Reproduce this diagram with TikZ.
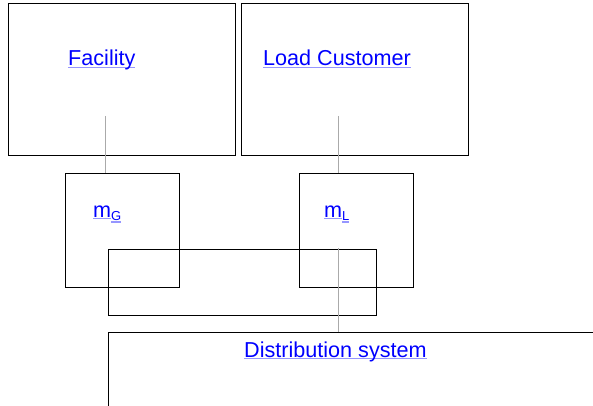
\documentclass[tikz,border=0pt]{standalone}
\usepackage{fontspec}
\setmainfont{Liberation Sans}
\usepackage{tikz}
\usepackage{color}

\definecolor{lnkblue}{RGB}{0,0,255}
\definecolor{lnkline}{RGB}{150,150,255}
\definecolor{wire}{RGB}{170,170,170}

\newcommand{\lnk}[1]{\setbox0\hbox{#1}\rlap{\color{lnkline}\rule[-2.4pt]{\wd0}{1.8pt}}\box0}
\newcommand{\lnksub}[2]{\lnk{#1}\raisebox{-3.5pt}{\fontsize{13}{13}\selectfont\lnk{#2}}}

\begin{document}
\begin{tikzpicture} [x=1pt,y=-1pt,
 box/.style={draw,line width=1pt,inner sep=0pt,minimum width=#1},
 lbl/.style={anchor=base west,inner sep=0pt,text=lnkblue,font=\fontsize{21.6}{24}\selectfont},
 feed/.style={draw=wire,line width=1pt}]
 
\useasboundingbox (0,0) rectangle (593,406);

\node [box=227pt,minimum height=151pt] (fac) at (121.5,79.5) {};
\node [box=227pt,minimum height=151pt] (load) at (354.5,79.5) {};
\node [box=114pt,minimum height=114pt] (mG) at (122,230) {};
\node [box=114pt,minimum height=114pt] (mL) at (356,230) {};
\node [box=268pt,minimum height=66pt] (bus) at (242,282) {};

\coordinate (fG) at (105,116);
\coordinate (fL) at (338,116);
\coordinate (bL) at (338,248);
\coordinate (dsa) at (108,406);
\coordinate (dsb) at (108,332);
\coordinate (dsc) at (593,332);

\node [lbl] (tfac) at (68,66) {\lnk{Facility}};
\node [lbl] (tload) at (263,66) {\lnk{Load Customer}};
\node [lbl] (tmG) at (93,217) {\lnksub{m}{G}};
\node [lbl] (tmL) at (324,217) {\lnksub{m}{L}};
\node [lbl] (tds) at (244,357) {\lnk{Distribution system}};

\draw [feed] (fG) -- (fG |- mG.north);
\draw [feed] (fL) -- (fL |- mL.north);
\draw [feed] (bL) -- (bL |- dsb);
\draw [line width=1pt] (dsa) -- (dsb) -- (dsc);

\end{tikzpicture}
\end{document}
